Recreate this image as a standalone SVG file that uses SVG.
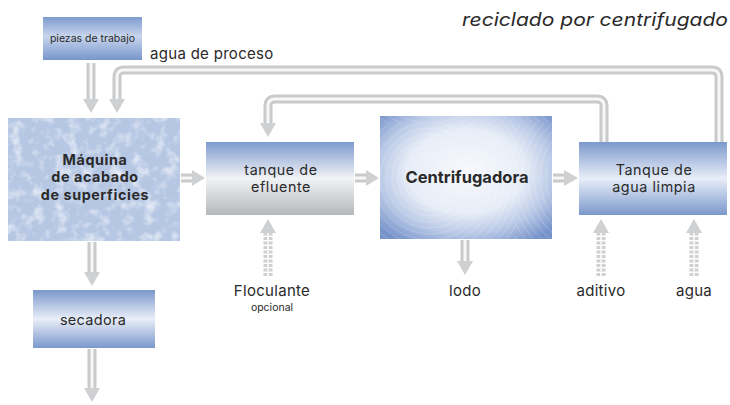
<svg xmlns="http://www.w3.org/2000/svg" width="730" height="405" viewBox="0 0 730 405">
<defs>
<linearGradient id="stripe" x1="0" y1="0" x2="0" y2="1">
<stop offset="0" stop-color="#7b98cc"/>
<stop offset="0.5" stop-color="#e9eef8"/>
<stop offset="1" stop-color="#7b98cc"/>
</linearGradient>
<linearGradient id="stripeTop" x1="0" y1="0" x2="0" y2="1">
<stop offset="0" stop-color="#7f9bcf"/>
<stop offset="0.45" stop-color="#c8d5ee"/>
<stop offset="1" stop-color="#7896cb"/>
</linearGradient>
<linearGradient id="eff" x1="0" y1="0" x2="0" y2="1">
<stop offset="0" stop-color="#7e9bcf"/>
<stop offset="0.5" stop-color="#f2f3f5"/>
<stop offset="1" stop-color="#b5b7bb"/>
</linearGradient>
<radialGradient id="cent" cx="0.5" cy="0.45" r="0.68">
<stop offset="0" stop-color="#f7f9fd"/>
<stop offset="0.5" stop-color="#e7edf7"/>
<stop offset="0.75" stop-color="#b8c8e6"/>
<stop offset="1" stop-color="#7693ca"/>
</radialGradient>
<pattern id="rings" x="0" y="0" width="172" height="123" patternUnits="userSpaceOnUse">
<g fill="none" stroke="#ffffff" stroke-opacity="0.18" stroke-width="1">
<circle cx="86" cy="55" r="20"/><circle cx="86" cy="55" r="26"/><circle cx="86" cy="55" r="32"/><circle cx="86" cy="55" r="38"/><circle cx="86" cy="55" r="44"/><circle cx="86" cy="55" r="50"/><circle cx="86" cy="55" r="56"/><circle cx="86" cy="55" r="62"/><circle cx="86" cy="55" r="68"/><circle cx="86" cy="55" r="74"/><circle cx="86" cy="55" r="80"/><circle cx="86" cy="55" r="86"/><circle cx="86" cy="55" r="92"/><circle cx="86" cy="55" r="98"/><circle cx="86" cy="55" r="104"/><circle cx="86" cy="55" r="110"/>
</g>
</pattern>
<filter id="tex" x="0" y="0" width="1" height="1">
<feTurbulence type="fractalNoise" baseFrequency="0.09" numOctaves="3" seed="4" result="n"/>
<feColorMatrix in="n" type="matrix" values="0 0 0 0 1  0 0 0 0 1  0 0 0 0 1  0 0 0 1.6 -0.75" result="w"/>
<feComposite in="w" in2="SourceGraphic" operator="in"/>
</filter>
<style>
.t{font-family:"Inter","Open Sans","Liberation Sans",sans-serif;fill:#2a2a2a}
.pipe{fill:none;stroke:#c9cacc;stroke-width:9;stroke-linejoin:round}
.pipein{fill:none;stroke:#f7f7f7;stroke-width:3;stroke-linejoin:round}
.head{fill:#cfd0d2}
.dash{fill:none;stroke:#cfd0d2;stroke-width:9;stroke-dasharray:3 1.5}
.dashin{fill:none;stroke:#f4f4f4;stroke-width:2;stroke-dasharray:3 1.5}
.ml{font-size:14.3px;letter-spacing:0.6px}
</style>
</defs>
<rect width="730" height="405" fill="#ffffff"/>

<g id="connectors">
<path class="pipe" d="M91 63 V100"/><path class="pipein" d="M91 63 V100"/>
<polygon class="head" points="83,99 99,99 91,113"/>
<path class="pipe" d="M719 142 V77 Q719 70 712 70 H124 Q117 70 117 77 V100"/>
<path class="pipein" d="M719 142 V77 Q719 70 712 70 H124 Q117 70 117 77 V100"/>
<polygon class="head" points="109,99 125,99 117,113"/>
<path class="pipe" d="M604 142 V106 Q604 99 597 99 H275 Q268 99 268 106 V124"/>
<path class="pipein" d="M604 142 V106 Q604 99 597 99 H275 Q268 99 268 106 V124"/>
<polygon class="head" points="260,123 276,123 268,137"/>
<path class="pipe" d="M181 178 H193"/><path class="pipein" d="M181 178 H193"/>
<polygon class="head" points="192,170 192,186 205,178"/>
<path class="pipe" d="M355 178 H367"/><path class="pipein" d="M355 178 H367"/>
<polygon class="head" points="366,170 366,186 379,178"/>
<path class="pipe" d="M553 178 H565"/><path class="pipein" d="M553 178 H565"/>
<polygon class="head" points="564,170 564,186 578,178"/>
<path class="pipe" d="M92 242 V273"/><path class="pipein" d="M92 242 V273"/>
<polygon class="head" points="84,272 100,272 92,286"/>
<path class="pipe" d="M92 349 V389"/><path class="pipein" d="M92 349 V389"/>
<polygon class="head" points="84,388 100,388 92,402"/>
<path class="pipe" d="M465 240 V262"/><path class="pipein" d="M465 240 V262"/>
<polygon class="head" points="457,261 473,261 465,275"/>
<path class="dash" d="M268 276 V232"/><path class="dashin" d="M268 276 V232"/>
<polygon class="head" points="260,233 276,233 268,219"/>
<path class="dash" d="M601 276 V232"/><path class="dashin" d="M601 276 V232"/>
<polygon class="head" points="593,233 609,233 601,219"/>
<path class="dash" d="M694 276 V232"/><path class="dashin" d="M694 276 V232"/>
<polygon class="head" points="686,233 702,233 694,219"/>
</g>

<g id="piezas">
<rect x="43" y="17" width="99" height="43" fill="url(#stripeTop)"/>
<text class="t" x="92.5" y="42" font-size="10.5" text-anchor="middle">piezas de trabajo</text>
</g>

<g id="maquina">
<rect x="8" y="118" width="172" height="123" fill="#b6c7e4"/>
<rect x="8" y="118" width="172" height="123" fill="#b6c7e4" filter="url(#tex)"/>
<text class="t ml" font-weight="bold" text-anchor="middle"><tspan x="95" y="164.5">Máquina</tspan><tspan x="95" y="182">de acabado</tspan><tspan x="95" y="199.5">de superficies</tspan></text>
</g>

<g id="efluente">
<rect x="206" y="142" width="148" height="73" fill="url(#eff)"/>
<text class="t ml" text-anchor="middle" fill="#333"><tspan x="281" y="174.5">tanque de</tspan><tspan x="281" y="192">efluente</tspan></text>
</g>

<g id="centrifugadora">
<rect x="380" y="116" width="172" height="123" fill="url(#cent)"/>
<rect x="380" y="116" width="172" height="123" fill="url(#rings)"/>
<text class="t" x="467" y="183" font-size="16.5" font-weight="bold" text-anchor="middle">Centrifugadora</text>
</g>

<g id="tanque-limpia">
<rect x="579" y="142" width="148" height="73" fill="url(#stripe)"/>
<text class="t ml" text-anchor="middle"><tspan x="654" y="174.5">Tanque de</tspan><tspan x="654" y="192">agua limpia</tspan></text>
</g>

<g id="secadora">
<rect x="33" y="290" width="122" height="58" fill="url(#stripe)"/>
<text class="t" x="93" y="325" font-size="14.5" letter-spacing="0.3" text-anchor="middle">secadora</text>
</g>

<g id="labels">
<text class="t" x="728" y="26" font-size="18" font-style="italic" text-anchor="end" fill="#444" textLength="266" lengthAdjust="spacingAndGlyphs">reciclado por centrifugado</text>
<text class="t" x="150" y="59" font-size="15" letter-spacing="0.3">agua de proceso</text>
<text class="t" x="272" y="296" font-size="15" letter-spacing="0.3" text-anchor="middle">Floculante</text>
<text class="t" x="272" y="311" font-size="10.5" text-anchor="middle">opcional</text>
<text class="t" x="465" y="296" font-size="15" letter-spacing="0.3" text-anchor="middle">lodo</text>
<text class="t" x="601" y="296" font-size="15" letter-spacing="0.3" text-anchor="middle">aditivo</text>
<text class="t" x="694" y="296" font-size="15" letter-spacing="0.3" text-anchor="middle">agua</text>
</g>
</svg>
